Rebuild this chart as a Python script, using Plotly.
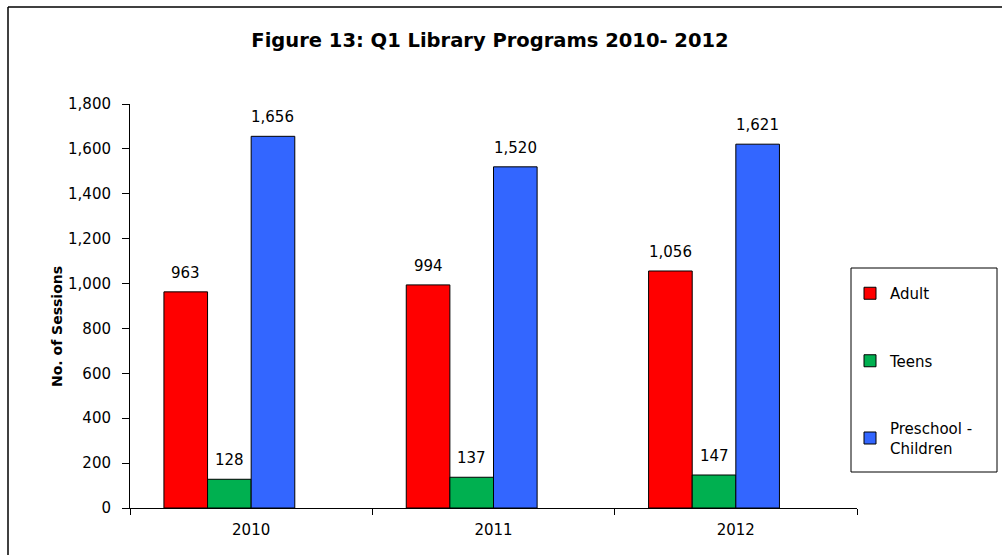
import plotly.graph_objects as go

# Programme sessions held in Q1, by audience
years = ["2010", "2011", "2012"]
adult = [963, 994, 1056]
teens = [128, 137, 147]
preschool = [1656, 1520, 1621]

series_names = ["Adult", "Teens", "Preschool -<br>Children"]
series_values = [adult, teens, preschool]
series_colors = ["#FF0000", "#00B050", "#3366FF"]

y_tick_values = [0, 200, 400, 600, 800, 1000, 1200, 1400, 1600, 1800]

FONT = "DejaVu Sans"

# plot-area geometry in pixels
W, H = 1002, 555
L, R, T, B = 130, 145, 104, 47
PW, PH = W - L - R, H - T - B


def px_x(p):
    return (p - L) / PW


def px_y(p):
    return (H - B - p) / PH


bar_width = 0.18
bar_offsets = [-0.36, -0.18, 0.0]

fig = go.Figure()
for k, (name, vals, color) in enumerate(zip(series_names, series_values, series_colors)):
    fig.add_trace(go.Bar(
        x=years, y=vals, name=name,
        width=bar_width, offset=bar_offsets[k],
        marker=dict(color=color, line=dict(color="black", width=1)),
        legendgroup=f"g{k}",
    ))
    # value labels above each bar
    for i, v in enumerate(vals):
        fig.add_annotation(
            x=i + bar_offsets[k] + bar_width / 2, y=v, xref="x", yref="y",
            text=f"{v:,}", showarrow=False, yanchor="bottom", yshift=8,
            font=dict(family=FONT, size=15, color="black"),
        )

# y-axis title
fig.add_annotation(
    x=px_x(57), y=px_y(327), xref="paper", yref="paper",
    xanchor="center", yanchor="middle",
    text="<b>No. of Sessions</b>", textangle=-90, showarrow=False,
    font=dict(family=FONT, size=14, color="black"),
)

# outer frame: only its top and left edges fall inside the page
fig.add_shape(type="line", xref="paper", yref="paper",
              x0=px_x(8), x1=px_x(1010), y0=px_y(7), y1=px_y(7),
              line=dict(color="black", width=1.5))
fig.add_shape(type="line", xref="paper", yref="paper",
              x0=px_x(8), x1=px_x(8), y0=px_y(7), y1=px_y(560),
              line=dict(color="black", width=1.5))
# legend frame
fig.add_shape(type="rect", xref="paper", yref="paper",
              x0=px_x(851), x1=px_x(997), y0=px_y(472), y1=px_y(268),
              line=dict(color="black", width=1))

fig.update_layout(
    width=W, height=H,
    margin=dict(l=L, r=R, t=T, b=B, autoexpand=False),
    paper_bgcolor="white", plot_bgcolor="white",
    title=dict(
        text="<b>Figure 13: Q1 Library Programs 2010- 2012</b>",
        xref="container", yref="container",
        x=490 / W, y=1 - 40 / H, xanchor="center", yanchor="middle",
        font=dict(family=FONT, size=19.5, color="black"),
    ),
    barmode="group",
    showlegend=True,
    legend=dict(
        x=px_x(850), y=px_y(277), xanchor="left", yanchor="top",
        bgcolor="rgba(0,0,0,0)", borderwidth=0,
        font=dict(family=FONT, size=15, color="black"),
        tracegroupgap=45, itemwidth=30, traceorder="grouped",
    ),
    font=dict(family=FONT, size=15, color="black"),
)

fig.update_xaxes(
    type="category", tickson="boundaries", range=[-0.5, 2.5],
    ticks="outside", ticklen=6, tickcolor="black", tickwidth=1,
    showline=True, linecolor="black", linewidth=1, showgrid=False,
    tickfont=dict(family=FONT, size=15, color="black"),
    ticklabelstandoff=8,
)
fig.update_yaxes(
    range=[0, 1800], tickvals=y_tick_values, tickformat=",d",
    ticks="outside", ticklen=7, tickcolor="black", tickwidth=1,
    showline=True, linecolor="black", linewidth=1, showgrid=False, zeroline=False,
    tickfont=dict(family=FONT, size=15, color="black"),
    ticklabelstandoff=8,
)

fig.write_html("out.html")
